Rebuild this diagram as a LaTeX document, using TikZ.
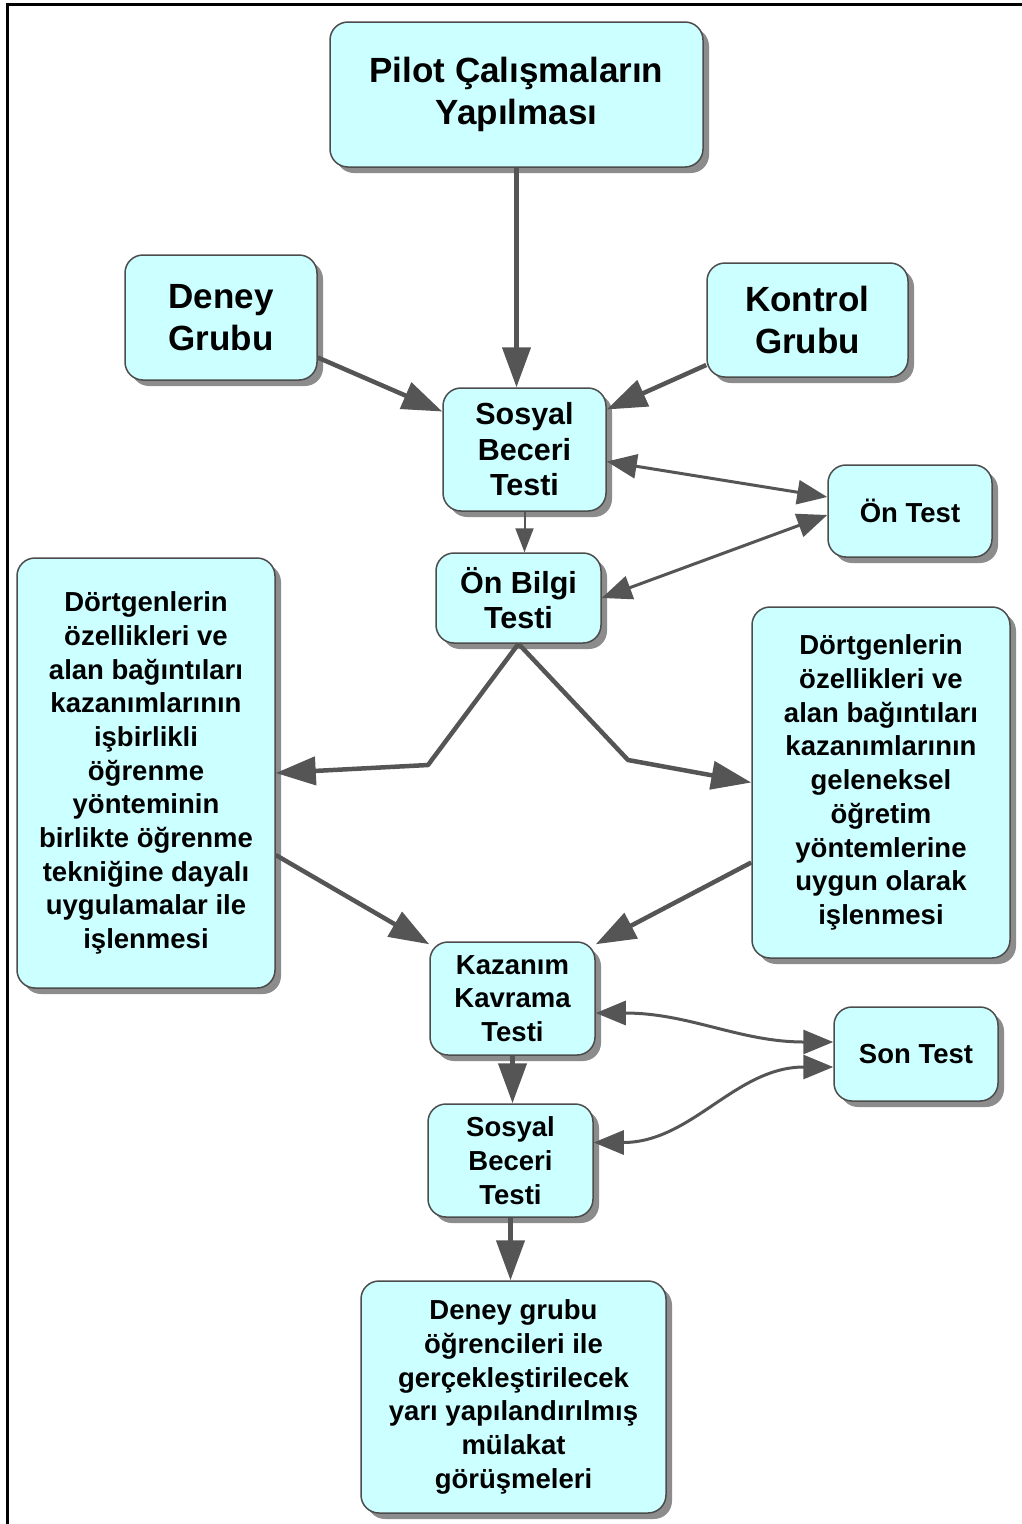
\documentclass[tikz,border=0pt]{standalone}
\usepackage{fontspec}
\setmainfont{Liberation Sans}
\usetikzlibrary{arrows.meta,shadows,calc}
\definecolor{boxfill}{RGB}{204,255,255}
\definecolor{arrowgray}{RGB}{85,85,85}
\begin{document}
\begin{tikzpicture}[x=1pt,y=-1pt,
  box/.style={draw=black!70, line width=1.5pt, fill=boxfill, rounded corners=18pt,
    align=center, inner sep=0pt, text=black,
    drop shadow={shadow xshift=6pt, shadow yshift=-6pt, fill=black!45, opacity=1}},
  sz/.style 2 args={minimum width=#1pt, minimum height=#2pt},
  bigtxt/.style={font=\bfseries\fontsize{35}{42}\selectfont},
  midtxt/.style={font=\bfseries\fontsize{30.5}{35.5}\selectfont},
  smalltxt/.style={font=\bfseries\fontsize{27.5}{33.7}\selectfont},
  thickarr/.style={draw=arrowgray, line width=4.5pt, line join=round, -{Triangle[length=40pt,width=28pt]}},
  dblarr/.style={draw=arrowgray, line width=3pt, {Triangle[length=30pt,width=24pt]}-{Triangle[length=30pt,width=24pt]}},
  thinarr/.style={draw=arrowgray, line width=2pt, -{Triangle[length=24pt,width=18pt]}}
]
\fill[white] (0,0) rectangle (1022,1524);
\useasboundingbox (0,0) rectangle (1022,1524);
\draw[line width=3pt] (7,1524) -- (7,4) -- (1022,4);

\node[box, bigtxt, sz={373}{145}] (pilot) at (516.5,94.5) {Pilot Çalışmaların\\Yapılması};
\node[box, bigtxt, sz={192}{125}] (deney) at (221,317.5) {Deney\\Grubu};
\node[box, bigtxt, sz={201}{114}] (kontrol) at (807.5,320) {Kontrol\\Grubu};
\node[box, midtxt, sz={163}{123}] (sos1) at (524.5,449.5) {Sosyal\\Beceri\\Testi};
\node[box, smalltxt, sz={164}{92}] (ontest) at (910,511) {Ön Test};
\node[box, midtxt, sz={165}{90}] (onbilgi) at (518.5,598) {Ön Bilgi\\Testi};
\node[box, smalltxt, sz={258}{430}] (left) at (146,773) {Dörtgenlerin\\özellikleri ve\\alan bağıntıları\\kazanımlarının\\işbirlikli\\öğrenme\\yönteminin\\birlikte öğrenme\\tekniğine dayalı\\uygulamalar ile\\işlenmesi};
\node[box, smalltxt, sz={258}{351}] (right) at (881,782.5) {Dörtgenlerin\\özellikleri ve\\alan bağıntıları\\kazanımlarının\\geleneksel\\öğretim\\yöntemlerine\\uygun olarak\\işlenmesi};
\node[box, smalltxt, sz={165}{113}] (kaz) at (512.5,998.5) {Kazanım\\Kavrama\\Testi};
\node[box, smalltxt, sz={164}{94}] (son) at (916,1054) {Son Test};
\node[box, smalltxt, sz={165}{113}] (sos2) at (510.5,1160.5) {Sosyal\\Beceri\\Testi};
\node[box, smalltxt, sz={305}{232}] (final) at (513.5,1397) {Deney grubu\\öğrencileri ile\\gerçekleştirilecek\\yarı yapılandırılmış\\mülakat\\görüşmeleri};

\coordinate (bendL) at (428,765);
\coordinate (bendR) at (628,760);

\draw[thickarr] (pilot.south) -- (pilot.south |- sos1.north);
\draw[thickarr] ($(deney.east)+(0,40)$) -- ($(sos1.west)+(0,-38)$);
\draw[thickarr] ($(kontrol.west)+(0,45)$) -- ($(sos1.east)+(0,-40)$);
\draw[dblarr] ($(sos1.east)+(0,12)$) -- ($(ontest.west)+(0,-14)$);
\draw[dblarr] ($(ontest.west)+(0,4)$) -- (onbilgi.east);
\draw[thinarr] (sos1.south) -- (sos1.south |- onbilgi.north);
\draw[thickarr] (onbilgi.south) -- (bendL) -- (left.east);
\draw[thickarr] (onbilgi.south) -- (bendR) -- (right.west);
\draw[thickarr] ($(left.east)+(0,82)$) -- ($(kaz.north west)+(0,3)$);
\draw[thickarr] ($(right.west)+(0,80)$) -- ($(kaz.north east)+(0,3)$);
\draw[dblarr] ($(kaz.east)+(0,14.5)$) to[out=0,in=180] ($(son.west)+(0,-12)$);
\draw[dblarr] ($(sos2.east)+(0,-18)$) to[out=0,in=180] ($(son.west)+(0,13)$);
\draw[thickarr] (kaz.south) -- (kaz.south |- sos2.north);
\draw[thickarr] (sos2.south) -- (sos2.south |- final.north);
\end{tikzpicture}
\end{document}
